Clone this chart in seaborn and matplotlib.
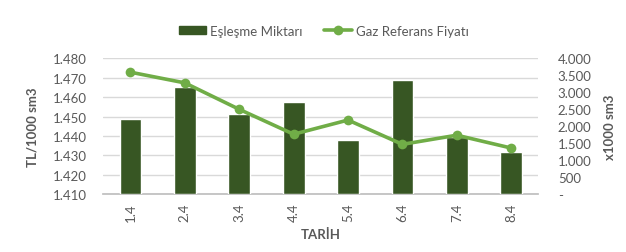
import numpy as np
import pandas as pd
import matplotlib
matplotlib.use("Agg")
import matplotlib.pyplot as plt
import seaborn as sns
from matplotlib.patches import Patch
from matplotlib.lines import Line2D

categories = ["1.4", "2.4", "3.4", "4.4", "5.4", "6.4", "7.4", "8.4"]
eslesme = [2215, 3156, 2353, 2715, 1597, 3362, 1676, 1244]
fiyat = [1.4728, 1.4673, 1.4537, 1.4409, 1.4482, 1.4357, 1.4404, 1.4338]
left_ticks = [1.410, 1.420, 1.430, 1.440, 1.450, 1.460, 1.470, 1.480]
left_tick_labels = ["1.410", "1.420", "1.430", "1.440", "1.450", "1.460", "1.470", "1.480"]
right_ticks = [0, 500, 1000, 1500, 2000, 2500, 3000, 3500, 4000]
right_tick_labels = ["-", "500", "1.000", "1.500", "2.000", "2.500", "3.000", "3.500", "4.000"]

df = pd.DataFrame({"TARİH": categories, "Eşleşme Miktarı": eslesme, "Gaz Referans Fiyatı": fiyat})

sns.set_theme(style="white")
plt.rcParams['font.family'] = ['Lato', 'DejaVu Sans']

TXT = "#595959"
BAR = "#375623"
LINE = "#70AD47"
GRID = "#D9D9D9"

bar_lim = (0, 4000)
line_lim = (1.410, 1.480)
n = len(categories)

fig = plt.figure(figsize=(6.26, 2.53), dpi=100)
# bottom layer: grid + left scale + x axis
ax_grid = fig.add_axes([0.165, 0.228, 0.695, 0.538])
# middle layer: bars (right scale)
ax_bar = ax_grid.twinx()
# top layer: price line (same scale as the left axis)
ax_line = ax_grid.twinx()

sns.barplot(data=df, x="TARİH", y="Eşleşme Miktarı", ax=ax_bar, color=BAR, width=0.4,
            saturation=1, zorder=3)
sns.lineplot(data=df, x="TARİH", y="Gaz Referans Fiyatı", ax=ax_line, color=LINE,
             linewidth=2.6, marker="o", markersize=7, markeredgewidth=0, sort=False)

ax_grid.set_xlim(-0.5, n - 0.5)
ax_grid.set_ylim(*line_lim)
ax_bar.set_ylim(*bar_lim)
ax_line.set_ylim(*line_lim)

# left scale + horizontal grid
ax_grid.set_yticks(left_ticks)
ax_grid.set_yticklabels(left_tick_labels)
ax_grid.yaxis.grid(True, color=GRID, linewidth=1)
ax_grid.xaxis.grid(False)
ax_grid.tick_params(axis="y", length=0, pad=12, labelsize=9.5, labelcolor=TXT)
ax_grid.set_ylabel("TL/1000 sm3", fontsize=9.5, fontweight="bold", color=TXT, labelpad=10)

# right scale
ax_bar.set_yticks(right_ticks)
ax_bar.set_yticklabels(right_tick_labels)
ax_bar.tick_params(axis="y", length=0, pad=14, labelsize=9.5, labelcolor=TXT)
ax_bar.set_ylabel("x1000 sm3", fontsize=9.5, fontweight="bold", color=TXT, labelpad=9)

# line axes: no visible y axis of its own
ax_line.yaxis.set_visible(False)

for a in (ax_grid, ax_bar, ax_line):
    for s in ["top", "left", "right"]:
        a.spines[s].set_visible(False)
ax_grid.spines["bottom"].set_color("#BFBFBF")
ax_bar.spines["bottom"].set_visible(False)
ax_line.spines["bottom"].set_visible(False)

# x axis (categories), separators between categories
ax_grid.set_xticks(range(n))
ax_grid.set_xticklabels(categories, rotation=90)
ax_grid.set_xticks(np.arange(-0.5, n, 1.0), minor=True)
ax_grid.tick_params(axis="x", which="major", length=0, pad=6, labelsize=9.5, labelcolor=TXT)
ax_grid.tick_params(axis="x", which="minor", length=5, color="#BFBFBF", width=1, direction="out")
ax_grid.set_xlabel("TARİH", fontsize=9.5, fontweight="bold", color=TXT, labelpad=5)

handles = [Patch(facecolor=BAR, edgecolor=BAR),
           Line2D([0], [0], color=LINE, linewidth=2.6, marker="o", markersize=7, markeredgewidth=0)]
fig.legend(handles, ["Eşleşme Miktarı", "Gaz Referans Fiyatı"], loc="center",
           bbox_to_anchor=(0.517, 0.875), ncol=2, frameon=False, fontsize=9.5,
           labelcolor=TXT, handlelength=2.1, handleheight=0.55, columnspacing=1.6,
           handletextpad=0.3)

fig.savefig("out.png", dpi=100)
